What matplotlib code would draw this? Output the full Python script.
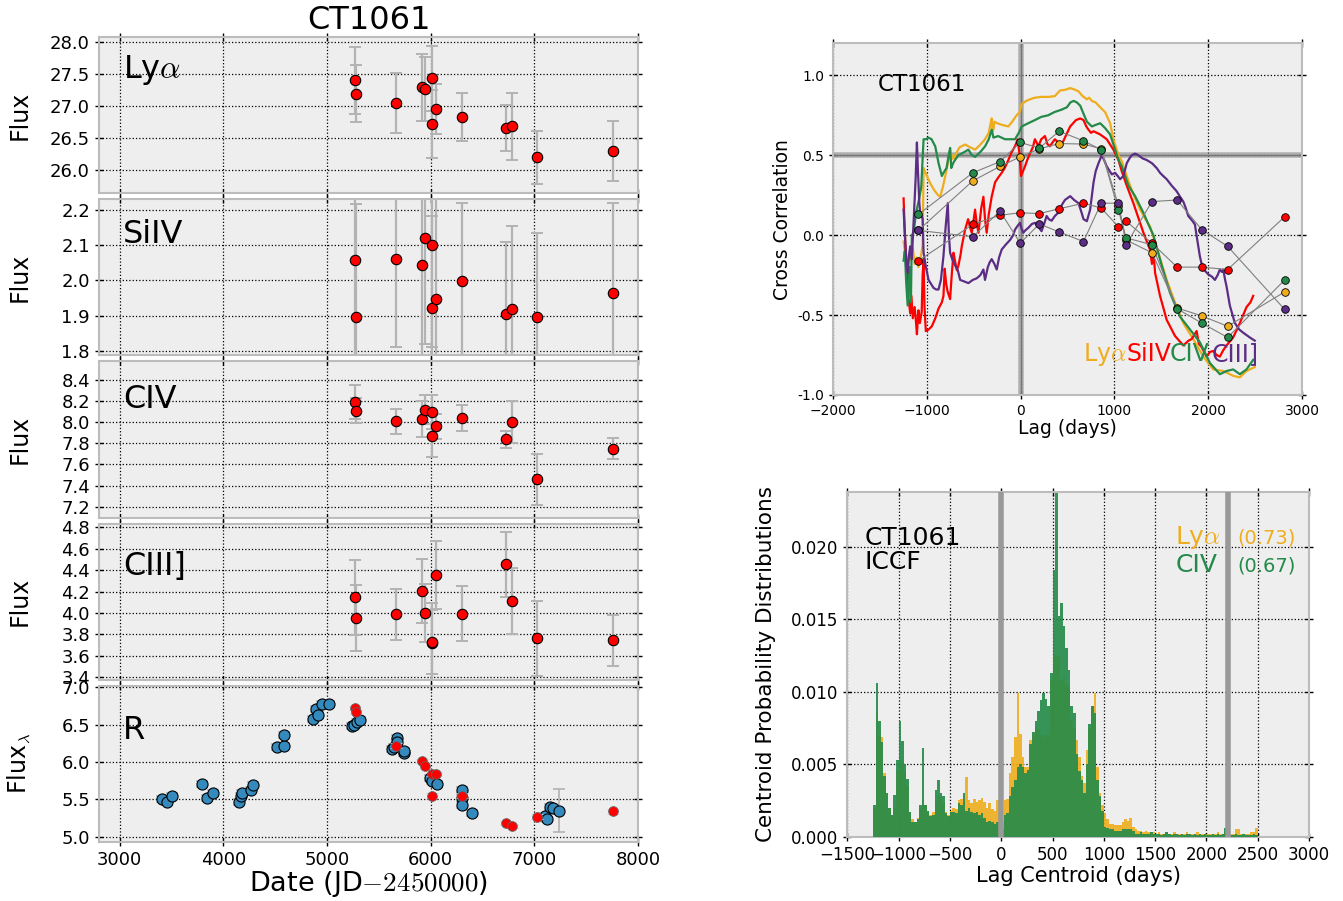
import numpy as np
import matplotlib
matplotlib.use("Agg")
import matplotlib.pyplot as plt
from matplotlib.ticker import FormatStrFormatter

plt.rcParams['mathtext.fontset'] = 'cm'

# ---- spectral epochs (JD-2450000) ----
spec_dates = [5270, 5275, 5661, 5913, 5947, 6012, 6015, 6053, 6298, 6724, 6782, 7024, 7763]
lya_flux = [27.40, 27.19, 27.04, 27.29, 27.26, 26.72, 27.43, 26.95, 26.83, 26.65, 26.68, 26.20, 26.30]
lya_err = [0.52, 0.44, 0.47, 0.52, 0.50, 0.53, 0.51, 0.39, 0.37, 0.36, 0.52, 0.41, 0.47]
siiv_flux = [2.059, 1.896, 2.062, 2.044, 2.120, 1.922, 2.100, 1.946, 1.999, 1.904, 1.919, 1.896, 1.963]
siiv_err = [0.27, 0.32, 0.25, 0.30, 0.30, 0.26, 0.29, 0.30, 0.222, 0.206, 0.235, 0.24, 0.256]
civ_flux = [8.19, 8.11, 8.01, 8.03, 8.12, 7.87, 8.10, 7.96, 8.04, 7.84, 8.00, 7.46, 7.75]
civ_err = [0.16, 0.12, 0.12, 0.17, 0.14, 0.20, 0.16, 0.12, 0.12, 0.08, 0.20, 0.24, 0.10]
ciii_flux = [4.147, 3.955, 3.987, 4.203, 4.000, 3.720, 3.730, 4.354, 3.993, 4.454, 4.112, 3.767, 3.745]
ciii_err = [0.35, 0.31, 0.235, 0.30, 0.27, 0.37, 0.30, 0.32, 0.255, 0.30, 0.31, 0.35, 0.24]
r_at_spec = [6.72, 6.67, 6.22, 6.01, 5.95, 5.55, 5.84, 5.84, 5.55, 5.18, 5.14, 5.27, 5.34]

# ---- R band photometry ----
r_dates = [3408, 3452, 3500, 3789, 3844, 3901, 4146, 4167, 4184, 4265, 4282, 4514, 4582, 4582,
           4861, 4895, 4915, 4949, 5017, 5238, 5262, 5289, 5316, 5626, 5650, 5670, 5677, 5738,
           5745, 5993, 6010, 6061, 6299, 6299, 6299, 6401, 7105, 7126, 7150, 7184, 7235]
r_flux = [5.50, 5.46, 5.55, 5.70, 5.52, 5.58, 5.47, 5.54, 5.59, 5.62, 5.69, 6.20, 6.22, 6.36,
          6.58, 6.71, 6.63, 6.77, 6.78, 6.48, 6.49, 6.53, 6.56, 6.17, 6.20, 6.32, 6.27, 6.12,
          6.15, 5.78, 5.75, 5.70, 5.63, 5.52, 5.43, 5.32, 5.28, 5.23, 5.40, 5.38, 5.35]
r_err = [0.04, 0.04, 0.04, 0.04, 0.04, 0.04, 0.04, 0.04, 0.04, 0.04, 0.04, 0.04, 0.04, 0.04,
         0.04, 0.04, 0.04, 0.04, 0.04, 0.04, 0.04, 0.04, 0.04, 0.04, 0.04, 0.04, 0.04, 0.04,
         0.04, 0.04, 0.04, 0.04, 0.04, 0.04, 0.04, 0.04, 0.04, 0.04, 0.04, 0.04, 0.29]

# ---- cross correlation functions ----
ccf_lya_lag = [-1248, -1230, -1210, -1190, -1170, -1150, -1130, -1110, -1090, -1060, -1045, -1035,
               -1000, -960, -920, -880, -858, -830, -800, -770, -752, -740, -725, -710, -690, -650,
               -592, -540, -486, -440, -380, -340, -320, -309, -300, -290, -280, -250, -200, -131,
               -90, -43, -10, 11, 60, 100, 152, 220, 300, 365, 420, 480, 528, 580, 617, 660, 706,
               730, 759, 800, 848, 900, 954, 989, 1043, 1080, 1113, 1167, 1220, 1273, 1330, 1379,
               1420, 1468, 1557, 1645, 1734, 1840, 1947, 2053, 2160, 2266, 2337, 2408, 2496]
ccf_lya = [-0.04, -0.12, -0.19, -0.13, -0.16, -0.08, -0.18, -0.14, -0.20, -0.12, -0.06, 0.42,
           0.37, 0.32, 0.28, 0.25, 0.24, 0.30, 0.38, 0.47, 0.535, 0.47, 0.50, 0.48, 0.51, 0.55,
           0.567, 0.55, 0.535, 0.56, 0.60, 0.64, 0.70, 0.73, 0.65, 0.66, 0.71, 0.70, 0.69, 0.68,
           0.71, 0.75, 0.77, 0.82, 0.84, 0.85, 0.86, 0.865, 0.865, 0.87, 0.905, 0.91, 0.92, 0.91,
           0.90, 0.87, 0.85, 0.86, 0.84, 0.83, 0.80, 0.77, 0.70, 0.60, 0.50, 0.46, 0.40, 0.31,
           0.23, 0.16, 0.10, 0.056, -0.02, -0.11, -0.28, -0.42, -0.55, -0.65, -0.76, -0.84,
           -0.85, -0.88, -0.89, -0.85, -0.825]

ccf_siiv_lag = [-1248, -1238, -1225, -1210, -1195, -1177, -1165, -1150, -1130, -1115, -1106, -1090,
                -1075, -1055, -1045, -1035, -1025, -1011, -980, -947, -910, -876, -840, -823, -810,
                -795, -780, -752, -735, -716, -700, -680, -663, -640, -628, -592, -560, -540, -521,
                -500, -486, -470, -450, -420, -397, -380, -362, -340, -309, -273, -240, -202, -170,
                -131, -95, -60, -32, -15, 4, 25, 46, 70, 99, 130, 152, 170, 188, 220, 259, 285, 312,
                340, 365, 400, 440, 480, 528, 590, 635, 670, 700, 723, 750, 777, 848, 918, 989, 1043,
                1078, 1131, 1202, 1260, 1309, 1345, 1379, 1400, 1420, 1433, 1486, 1557, 1645, 1734,
                1790, 1823, 1876, 1900, 1929, 1982, 2020, 2053, 2090, 2124, 2160, 2195, 2266, 2337,
                2408, 2450, 2479]
ccf_siiv = [0.23, 0.06, -0.10, -0.25, -0.40, -0.49, -0.38, -0.52, -0.45, -0.55, -0.62, -0.47,
            -0.55, -0.48, -0.25, -0.15, -0.45, -0.60, -0.59, -0.57, -0.52, -0.46, -0.42, -0.38, -0.21,
            -0.30, -0.35, -0.40, -0.25, -0.11, -0.16, -0.22, -0.19, -0.12, -0.07, 0.035, 0.10, 0.05,
            0.015, 0.10, 0.16, 0.08, 0.015, 0.17, 0.24, 0.10, 0.015, 0.13, 0.24, 0.33, 0.36, 0.39,
            0.42, 0.47, 0.52, 0.556, 0.60, 0.52, 0.37, 0.40, 0.43, 0.47, 0.51, 0.55, 0.60, 0.58,
            0.556, 0.60, 0.62, 0.57, 0.556, 0.58, 0.60, 0.58, 0.57, 0.62, 0.68, 0.72, 0.73, 0.72,
            0.68, 0.66, 0.64, 0.65, 0.63, 0.60, 0.535, 0.47, 0.40, 0.31, 0.20, 0.10, 0.015, -0.04,
            -0.09, -0.18, -0.13, -0.235, -0.38, -0.53, -0.63, -0.69, -0.66, -0.65, -0.60, -0.68,
            -0.70, -0.76, -0.73, -0.725, -0.75, -0.76, -0.72, -0.69, -0.64, -0.55, -0.45, -0.42, -0.38]

ccf_civ_lag = [-1248, -1235, -1220, -1205, -1195, -1185, -1170, -1160, -1140, -1115, -1085, -1060,
               -1035, -1010, -982, -950, -911, -875, -840, -823, -790, -770, -752, -740, -720, -700,
               -663, -600, -557, -520, -486, -430, -379, -340, -309, -290, -240, -167, -100, -60,
               -20, 11, 80, 152, 220, 294, 360, 436, 493, 530, 564, 600, 635, 670, 706, 759, 800,
               848, 900, 954, 1007, 1043, 1078, 1149, 1220, 1309, 1360, 1415, 1504, 1592, 1699,
               1805, 1911, 2018, 2124, 2195, 2266, 2337, 2408, 2479]
ccf_civ = [-0.16, -0.10, -0.30, -0.44, -0.30, -0.20, -0.42, 0.0, 0.02, 0.14, 0.22, 0.30,
           0.60, 0.60, 0.61, 0.60, 0.556, 0.45, 0.37, 0.39, 0.42, 0.49, 0.546, 0.42, 0.45, 0.47,
           0.50, 0.52, 0.535, 0.50, 0.49, 0.52, 0.556, 0.60, 0.66, 0.61, 0.62, 0.60, 0.60, 0.60,
           0.64, 0.68, 0.70, 0.72, 0.74, 0.75, 0.77, 0.785, 0.80, 0.83, 0.84, 0.83, 0.81, 0.76,
           0.71, 0.68, 0.69, 0.70, 0.67, 0.63, 0.535, 0.47, 0.43, 0.31, 0.244, 0.14, 0.07, 0.0,
           -0.19, -0.36, -0.51, -0.59, -0.67, -0.80, -0.87, -0.85, -0.84, -0.87, -0.84, -0.78]

ccf_ciii_lag = [-1248, -1230, -1215, -1202, -1190, -1177, -1160, -1140, -1120, -1106, -1095, -1080,
                -1071, -1055, -1045, -1035, -1010, -982, -950, -929, -900, -876, -850, -823, -800,
                -777, -765, -752, -730, -699, -670, -645, -600, -557, -510, -468, -430, -397, -380,
                -350, -330, -309, -280, -255, -230, -202, -160, -113, -80, -60, -30, -7, 10, 28, 50,
                82, 120, 152, 190, 223, 250, 277, 300, 330, 365, 401, 440, 472, 528, 570, 617, 650,
                670, 706, 741, 777, 800, 830, 865, 890, 918, 950, 972, 1007, 1035, 1060, 1096, 1131,
                1160, 1184, 1220, 1255, 1300, 1344, 1400, 1450, 1486, 1520, 1557, 1610, 1663, 1700,
                1734, 1760, 1787, 1830, 1858, 1875, 1894, 1910, 1929, 1960, 2000, 2040, 2071, 2100,
                2124, 2145, 2160, 2180, 2195, 2230, 2284, 2330, 2372, 2443, 2496]
ccf_ciii = [0.16, -0.05, -0.20, -0.235, -0.12, -0.07, -0.15, 0.10, 0.35, 0.58, 0.40, 0.20,
            0.14, 0.12, 0.10, -0.11, -0.20, -0.28, -0.31, -0.33, -0.34, -0.34, -0.28, -0.13, 0.05,
            0.20, 0.0, -0.11, -0.15, -0.19, -0.22, -0.28, -0.29, -0.30, -0.28, -0.27, -0.25, -0.215,
            -0.28, -0.20, -0.17, -0.15, -0.18, -0.215, -0.14, -0.09, -0.06, -0.03, 0.0, 0.035, 0.06,
            0.077, 0.04, 0.015, 0.03, 0.046, 0.07, 0.077, 0.05, 0.025, 0.07, 0.12, 0.10, 0.09, 0.12,
            0.14, 0.19, 0.22, 0.244, 0.22, 0.20, 0.14, 0.10, 0.0875, 0.16, 0.33, 0.40, 0.45, 0.50,
            0.47, 0.43, 0.40, 0.38, 0.39, 0.37, 0.35, 0.37, 0.45, 0.48, 0.50, 0.51, 0.50, 0.48,
            0.47, 0.45, 0.42, 0.39, 0.37, 0.35, 0.31, 0.275, 0.24, 0.21, 0.17, 0.12, 0.09, 0.067,
            0.0, -0.07, -0.13, -0.18, -0.22, -0.245, -0.26, -0.28, -0.25, -0.215, -0.23, -0.215,
            -0.28, -0.32, -0.44, -0.55, -0.59, -0.61, -0.64, -0.66]

# discrete correlation points
pt_lag = [-1090, -510, -220, -5, 200, 410, 670, 858, 1043, 1124, 1400, 1668, 1930, 2207, 2815]
pt_lya = [0.03, 0.34, 0.43, 0.49, 0.54, 0.573, 0.57, 0.54, 0.185, -0.03, -0.11, -0.455, -0.505, -0.57, -0.355]
pt_siiv = [-0.16, 0.067, 0.125, 0.14, 0.135, 0.165, 0.20, 0.17, 0.052, 0.0875, -0.05, -0.20, -0.20, -0.215, 0.115]
pt_civ = [0.13, 0.39, 0.46, 0.58, 0.545, 0.65, 0.59, 0.535, 0.156, -0.017, -0.06, -0.46, -0.55, -0.64, -0.28]
pt_ciii = [0.03, -0.01, 0.15, -0.05, 0.07, 0.02, -0.04, 0.20, 0.20, -0.06, 0.21, 0.22, 0.035, -0.07, -0.465]

# ---- centroid distributions (units of 1e-3 per day, 25 day bins from -1250) ----
ccd_lya = [2.0, 8.5, 7.0, 6.9, 4.4, 3.0, 2.0, 1.5, 2.0, 4.5,
           5.0, 5.2, 4.5, 3.5, 1.6, 1.2, 1.0, 1.3, 2.0, 2.5,
           2.2, 1.6, 1.5, 1.7, 2.5, 2.8, 2.6, 2.3, 1.7, 1.5,
           1.8, 2.0, 1.9, 2.5, 2.6, 2.4, 4.1, 2.5, 2.3, 2.6,
           2.4, 2.5, 2.7, 2.4, 2.0, 2.3, 1.9, 1.8, 2.5, 1.0,
           1.0, 2.5, 2.6, 4.4, 5.5, 6.9, 9.9, 7.1, 5.5, 4.8,
           4.8, 6.7, 7.1, 7.6, 7.4, 7.0, 6.9, 7.1, 7.0, 10.8,
           12.4, 12.5, 12.4, 10.8, 11.0, 10.5, 10.3, 8.0, 7.5, 6.7,
           5.5, 4.2, 3.7, 6.0, 7.5, 9.0, 9.9, 4.8, 3.0, 2.2,
           1.6, 1.2, 0.9, 0.9, 0.8, 0.8, 0.8, 1.0, 1.2, 1.1,
           1.3, 0.7, 0.5, 0.4, 0.4, 0.3, 0.4, 0.3, 0.3, 0.3,
           0.2, 0.3, 0.2, 0.2, 0.3, 0.2, 0.2, 0.3, 0.2, 0.2,
           0.2, 0.2, 0.3, 0.2, 0.2, 0.2, 0.3, 0.2, 0.2, 0.2,
           0.2, 0.2, 0.2, 0.2, 0.3, 0.2, 0.2, 0.3, 0.2, 0.2,
           0.2, 0.5, 0.5, 0.2, 0.2, 0.2, 0.2, 0.3, 0.3, 0.6]
ccd_civ = [2.2, 10.6, 8.0, 6.5, 4.2, 3.0, 2.0, 1.5, 2.9, 5.3,
           8.0, 6.6, 5.0, 4.0, 1.7, 1.0, 1.0, 1.2, 2.2, 6.1,
           2.2, 1.8, 1.4, 1.5, 3.2, 3.9, 3.0, 2.8, 1.6, 1.4,
           1.7, 1.7, 1.6, 2.3, 2.2, 3.0, 1.8, 2.0, 1.7, 1.6,
           1.7, 1.5, 1.6, 1.3, 1.0, 1.1, 1.0, 0.9, 1.0, 0.5,
           0.5, 1.5, 1.6, 2.8, 3.4, 3.9, 4.8, 5.0, 4.8, 4.4,
           4.6, 6.4, 7.2, 8.0, 8.7, 9.4, 9.9, 9.5, 9.0, 11.3,
           18.4, 23.7, 15.2, 16.1, 14.5, 13.0, 11.5, 9.0, 8.5, 5.7,
           4.5, 3.9, 3.0, 5.0, 7.8, 9.0, 8.5, 3.9, 2.8, 1.8,
           0.7, 0.6, 0.5, 0.5, 0.4, 0.4, 0.4, 0.5, 0.5, 0.5,
           0.5, 0.4, 0.2, 0.2, 0.3, 0.2, 0.2, 0.2, 0.3, 0.2,
           0.2, 0.2, 0.1, 0.2, 0.3, 0.2, 0.1, 0.2, 0.2, 0.1,
           0.2, 0.1, 0.2, 0.2, 0.1, 0.2, 0.1, 0.2, 0.1, 0.2,
           0.1, 0.1, 0.2, 0.1, 0.2, 0.1, 0.2, 0.6, 0.3, 0.1,
           0.1, 0.2, 0.1, 0.1, 0.2, 0.1, 0.1, 0.1, 0.2, 0.1]

c_lya = '#EEAD1C'
c_siiv = '#FF0000'
c_civ = '#238A49'
c_ciii = '#5C2D84'
c_blue = '#348ABD'


def style(ax, fs):
    ax.set_facecolor('#eeeeee')
    for s in ax.spines.values():
        s.set_color('#bcbcbc')
        s.set_linewidth(1.5)
    ax.grid(True, color='black', linestyle=':', linewidth=0.9)
    ax.set_axisbelow(True)
    ax.tick_params(direction='inout', length=6, width=1, top=True, right=True, labelsize=fs)


fig = plt.figure(figsize=(13.43, 9.01), dpi=100)

# ---------------- left column: light curves ----------------
gs = fig.add_gridspec(5, 1, left=0.0737, right=0.4751, top=0.9589, bottom=0.0655, hspace=0.038)
axes = [fig.add_subplot(gs[i]) for i in range(5)]

panels = [
    (lya_flux, lya_err, r'Ly$\alpha$', (25.638, 28.073), np.arange(26.0, 28.01, 0.5), 0.74),
    (siiv_flux, siiv_err, 'SiIV', (1.7866, 2.2307), np.arange(1.8, 2.201, 0.1), 0.72),
    (civ_flux, civ_err, 'CIV', (7.097, 8.576), np.arange(7.2, 8.401, 0.2), 0.70),
    (ciii_flux, ciii_err, 'CIII]', (3.377, 4.835), np.arange(3.4, 4.801, 0.2), 0.67),
]
for ax, (flux, err, name, ylim, yt, ty) in zip(axes[:4], panels):
    style(ax, 13)
    ax.errorbar(spec_dates, flux, yerr=err, fmt='none', ecolor='#b3b3b3', elinewidth=1.6,
                capsize=4, capthick=1.4, zorder=2)
    ax.plot(spec_dates, flux, 'o', mfc='red', mec='black', ms=7.5, mew=0.8, zorder=3)
    ax.set_ylim(ylim)
    ax.set_yticks(yt)
    ax.yaxis.set_major_formatter(FormatStrFormatter('%.1f'))
    ax.text(0.045, ty, name, transform=ax.transAxes, fontsize=23)
    ax.set_ylabel('Flux', fontsize=17)

axr = axes[4]
style(axr, 13)
axr.errorbar(r_dates, r_flux, yerr=r_err, fmt='none', ecolor='#b3b3b3', elinewidth=1.2,
             capsize=4, capthick=1.2, zorder=2)
axr.plot(r_dates, r_flux, 'o', mfc=c_blue, mec='black', ms=8, mew=0.8, zorder=3)
axr.errorbar(spec_dates, r_at_spec, yerr=0.03, fmt='o', mfc='red', mec='#666666', ms=7,
             mew=0.6, ecolor='#cccccc', elinewidth=1.0, capsize=4, zorder=4)
axr.set_ylim(4.929, 7.02)
axr.set_yticks(np.arange(5.0, 7.01, 0.5))
axr.yaxis.set_major_formatter(FormatStrFormatter('%.1f'))
axr.text(0.045, 0.66, 'R', transform=axr.transAxes, fontsize=23)
axr.set_ylabel(r'Flux$_\lambda$', fontsize=17)
axr.set_xlabel(r'Date (JD$-2450000$)', fontsize=19.5, labelpad=0)

for ax in axes:
    ax.set_xlim(2800, 8000)
    ax.set_xticks(np.arange(3000, 8001, 1000))
    ax.yaxis.set_label_coords(-0.125, 0.5)
for ax in axes[:4]:
    ax.tick_params(labelbottom=False)
axes[0].set_title('CT1061', fontsize=23, pad=6)

# ---------------- top right: cross correlation ----------------
axc = fig.add_axes([0.6203, 0.5616, 0.3492, 0.3903])
style(axc, 10)
axc.axvline(0, color='#888888', lw=4, alpha=0.6, zorder=1.5)
axc.axvline(0, color='#777777', lw=1, zorder=1.6)
axc.axhline(0.5, color='#888888', lw=4, alpha=0.6, zorder=1.5)
axc.axhline(0.5, color='#777777', lw=1, zorder=1.6)
for lag, cc, col in [(ccf_lya_lag, ccf_lya, c_lya), (ccf_siiv_lag, ccf_siiv, c_siiv),
                     (ccf_civ_lag, ccf_civ, c_civ), (ccf_ciii_lag, ccf_ciii, c_ciii)]:
    axc.plot(lag, cc, color=col, lw=1.6, zorder=3)
for pts, col in [(pt_lya, c_lya), (pt_siiv, c_siiv), (pt_civ, c_civ), (pt_ciii, c_ciii)]:
    axc.plot(pt_lag, pts, '-', color='gray', lw=0.8, zorder=4)
    axc.plot(pt_lag, pts, 'o', mfc=col, mec='black', ms=5.5, mew=0.6, zorder=5)
axc.set_xlim(-2000, 3000)
axc.set_ylim(-1.0, 1.2)
axc.set_xticks(np.arange(-2000, 3001, 1000))
axc.set_yticks(np.arange(-1.0, 1.01, 0.5))
axc.yaxis.set_major_formatter(FormatStrFormatter('%.1f'))
axc.set_xlabel('Lag (days)', fontsize=13.5, labelpad=1)
axc.set_ylabel('Cross Correlation', fontsize=13.5)
axc.text(-1520, 0.9, 'CT1061', fontsize=16.5)
axc.text(664, -0.79, r'Ly$\alpha$', color=c_lya, fontsize=17)
axc.text(1124, -0.79, 'SiIV', color=c_siiv, fontsize=17)
axc.text(1592, -0.79, 'CIV', color=c_civ, fontsize=17)
axc.text(2036, -0.79, 'CIII]', color=c_ciii, fontsize=17)

# ---------------- bottom right: centroid distributions ----------------
axh = fig.add_axes([0.6309, 0.0714, 0.3438, 0.3829])
style(axh, 12)
edges = np.arange(-1250, 2500, 25)
axh.bar(edges, np.array(ccd_lya) * 1e-3, width=25, align='edge', color=c_lya, alpha=0.9,
        linewidth=0, zorder=2)
axh.bar(edges, np.array(ccd_civ) * 1e-3, width=25, align='edge', color=c_civ, alpha=0.9,
        linewidth=0, zorder=3)
axh.axvline(0, color='#999999', lw=4, zorder=4)
axh.axvline(2210, color='#999999', lw=4, zorder=4)
axh.set_xlim(-1500, 3000)
axh.set_ylim(0, 0.0238)
axh.set_xticks(np.arange(-1500, 3001, 500))
axh.set_yticks(np.arange(0, 0.0201, 0.005))
axh.yaxis.set_major_formatter(FormatStrFormatter('%.3f'))
axh.set_xlabel('Lag Centroid (days)', fontsize=15, labelpad=2)
axh.set_ylabel('Centroid Probability Distributions', fontsize=15.5)
axh.yaxis.set_label_coords(-0.155, 0.5)
axh.text(-1332, 0.0201, 'CT1061', fontsize=18)
axh.text(-1332, 0.0185, 'ICCF', fontsize=18)
axh.text(1697, 0.0202, r'Ly$\alpha$', color=c_lya, fontsize=18)
axh.text(2300, 0.0202, '(0.73)', color=c_lya, fontsize=14)
axh.text(1697, 0.01828, 'CIV', color=c_civ, fontsize=18)
axh.text(2300, 0.01828, '(0.67)', color=c_civ, fontsize=14)

fig.savefig('out.png', dpi=100)
